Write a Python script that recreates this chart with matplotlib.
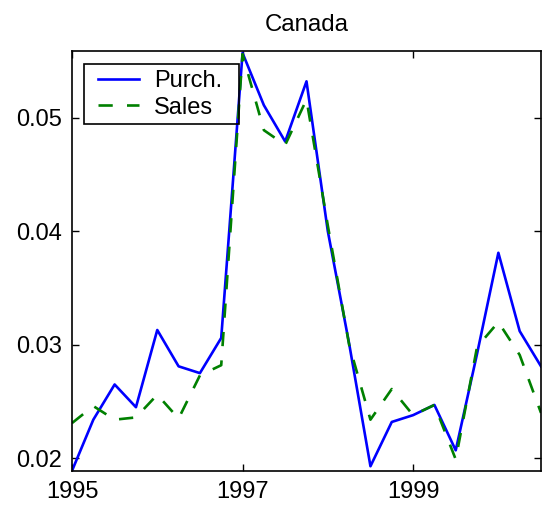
import matplotlib
matplotlib.use("Agg")
import matplotlib.pyplot as plt
from matplotlib.patches import Rectangle
import numpy as np

plt.rcParams['font.family'] = ['Liberation Sans', 'DejaVu Sans']

quarters = np.arange(1995.0, 2000.51, 0.25)
purch = [0.0189, 0.0234, 0.0265, 0.0245, 0.0313, 0.0281, 0.0275, 0.0306,
         0.0557, 0.0511, 0.0479, 0.0532, 0.0400, 0.0301, 0.0193, 0.0232,
         0.0238, 0.0247, 0.0207, 0.0292, 0.0381, 0.0312, 0.0281]
sales = [0.0231, 0.0246, 0.0234, 0.0236, 0.0256, 0.0235, 0.0273, 0.0282,
         0.0556, 0.0489, 0.0476, 0.0516, 0.0405, 0.0300, 0.0234, 0.0261,
         0.0238, 0.0247, 0.0199, 0.0298, 0.0320, 0.0291, 0.0240]
xticks = [1995, 1997, 1999]
yticks = [0.02, 0.03, 0.04, 0.05]

W, H = 542, 512
fig = plt.figure(figsize=(W / 100, H / 100), dpi=100)
ax = fig.add_axes([72 / W, 1 - 471 / H, 469 / W, (471 - 50.7) / H])
ax.plot(quarters, purch, color='#0000ff', lw=1.9, label='Purch.')
ax.plot(quarters, sales, color='#008000', lw=1.9, ls=(0, (5.4, 5.4)), label='Sales')
ax.set_xlim(1995, 2000.5)
ax.set_ylim(0.01888, 0.0559)
ax.set_xticks(xticks)
ax.set_xticklabels([str(t) for t in xticks])
ax.set_yticks(yticks)
ax.set_yticklabels(['0.02', '0.03', '0.04', '0.05'])
ax.tick_params(direction='in', top=True, right=True, length=5, width=1,
               labelsize=17, pad=7)
for s in ax.spines.values():
    s.set_linewidth(1.2)
ax.set_title('Canada', fontsize=17.3, pad=14)

leg = ax.legend(loc='upper left', bbox_to_anchor=(98 / W, 1 - 70 / H),
                bbox_transform=fig.transFigure, fontsize=17,
                frameon=False, handlelength=1.75, borderpad=0.0,
                labelspacing=0.2, handletextpad=0.62, borderaxespad=0.0)
fig.add_artist(Rectangle((84 / W, 1 - 123.5 / H), 155 / W, 59.5 / H,
                         transform=fig.transFigure, fill=False,
                         edgecolor='black', lw=1.2, zorder=5))
fig.savefig('out.png', dpi=100)
